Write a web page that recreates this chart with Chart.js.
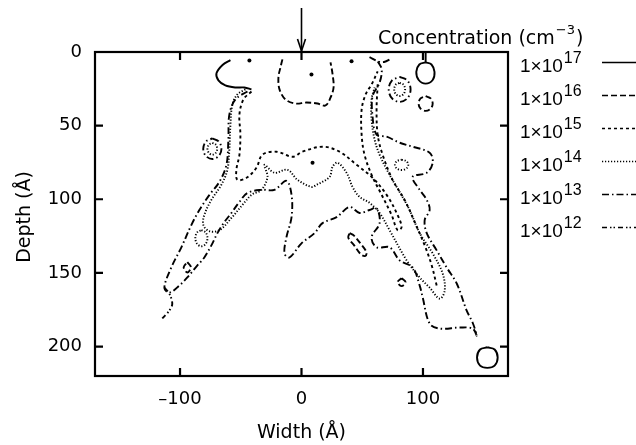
<!DOCTYPE html>
<html>
<head>
<meta charset="utf-8">
<script src="https://cdn.jsdelivr.net/npm/chart.js@4/dist/chart.umd.min.js"></script>
<style>
html,body{margin:0;padding:0;background:#fff;}
canvas{display:block;}
</style>
</head>
<body>
<canvas id="c" width="636" height="445"></canvas>
<script>
// ---- axis ticks / labels ----
const xTicks = [-100, 0, 100];
const yTicks = [0, 50, 100, 150, 200];
const xTitle = 'Width (Å)';
const yTitle = 'Depth (Å)';
const legendTitle = 'Concentration (cm';
const legendTitleSup = '−3';
const legendBase = '1×10';
const legendExponents = ['17', '16', '15', '14', '13', '12'];

// ---- contour data: [width (Å), depth (Å)] ----
// 1e17 (solid)
const c17Hook = [[-58.5,5.5],[-65,8.8],[-70,14.5],[-68.4,19.3],[-62.7,22.7],[-54.4,24.1],[-47,24.1],[-41.2,25.4]];
const c17Stem = [[102.2,0],[102.2,7]];
const c17RingTop = [[102.2,7],[107,8.5],[109.5,13.5],[108,19],[102.2,21.5],[96.5,19],[94.5,13.5],[97,8.5],[102.2,7]];
const c17RingBottom = [[153,200.5],[159,202],[161.5,207.5],[159,213],[153,214.5],[147,213],[144.5,207.5],[147,202],[153,200.5]];
const c17Dots = [[8.2,15.2],[-42.9,5.7],[41.2,6.3],[9.1,75.2]];
// 1e16 (dashed)
const c16Box = [[-15.7,5],[-17.3,10.4],[-19,17.2],[-18.1,25.4],[-13.2,32.2],[-4.9,35],[4.1,34.3],[13.2,35],[19.8,36.3],[23.9,30.9],[26.4,24.1],[25.6,15.2],[23.9,7]];
const c16SmallRing = [[102.2,30],[106.3,31.5],[108,35],[106.3,38.5],[102.2,40],[98,38.5],[96.4,35],[98,31.5],[102.2,30]];
const c16Oval = [[39.6,123],[43,124.5],[48.5,130],[53.5,136],[52.5,138.5],[49,137.5],[43.5,131.5],[38.5,126],[39.6,123]];
const c16LeftSmall = [[-94,142.7],[-91,146.2],[-94,149.7],[-97,146.2],[-94,142.7]];
const c16RightSmall = [[82.4,153.6],[85.7,156.3],[82.4,159],[79.1,156.3],[82.4,153.6]];
// 1e15 (short dashes)
const c15Main = [[-41.2,26.8],[-47.8,32.2],[-51.1,42.5],[-50.3,56.1],[-51.1,69.8],[-53.6,80],[-52.8,86.8],[-45.3,85.4],[-37.1,78.6],[-32.2,69.8],[-20.6,67.7],[-7.4,71.1],[0.8,67.7],[17.3,64.3],[31.3,67.7],[45.3,76.6],[58.5,85.4],[70.1,97],[78.3,109.3],[82.4,118.9],[79.1,121],[74.2,110.7],[66,97],[57.7,83.4],[51.9,69.8],[49.5,56.1],[49.5,39.1],[52.8,28.8],[57.7,22],[62.7,13.2]];
const c15Right = [[62.7,22],[61.8,39.1],[62.7,56.1],[66.8,69.8],[75,86.8],[84.9,100.4],[93.2,115.5],[101.4,131.3],[107.2,144.9],[111.3,158.6]];
// 1e14 (dots)
const c14Main = [[-46.2,25.4],[-52.8,28.8],[-56.9,35.7],[-58.5,49.3],[-59.4,66.3],[-61,80],[-66,90.2],[-74.2,100.4],[-80,110.7],[-80.8,117.5],[-75.8,121.7],[-67.6,121],[-57.7,112.7],[-48.6,103.8],[-41.2,97],[-33,93.6],[-28,84.8],[-30.5,76.6],[-22.3,82],[-11.5,80],[-3.3,86.8],[8.2,91.6],[12.4,90.2],[23.1,84.8],[25.6,77.9],[29.7,75.2],[37.1,82],[42,91.6],[47.8,98.4],[56.1,102.5],[64.3,109.3],[72.5,121],[86.6,141.5],[97.3,153.1],[105.5,160],[113.8,167.5],[117.9,162],[116.2,150.4],[108,136.8],[97.3,123],[89,107.3],[80.8,95],[72.5,83.4],[64.3,69.8],[60.2,59.5],[57.7,45.9],[57.7,32.2],[60.2,24.1]];
const c14LeftRing = [[-73.4,61.7],[-70.6,62.9],[-69.4,65.7],[-70.6,68.5],[-73.4,69.7],[-76.2,68.5],[-77.4,65.7],[-76.2,62.9],[-73.4,61.7]];
const c14RightRing = [[80.8,20.9],[84,22.2],[85.3,25.4],[84,28.6],[80.8,29.9],[77.6,28.6],[76.3,25.4],[77.6,22.2],[80.8,20.9]];
const c14RightOval = [[82.4,73.1],[86.3,74.1],[87.9,76.6],[86.3,79.1],[82.4,80.1],[78.5,79.1],[76.9,76.6],[78.5,74.1],[82.4,73.1]];
const c14ArmOval = [[-82.4,120.9],[-78.9,122.5],[-77.4,126.4],[-78.9,130.3],[-82.4,131.9],[-85.9,130.3],[-87.4,126.4],[-85.9,122.5],[-82.4,120.9]];
// 1e13 (dash-dot)
const c13Envelope = [[-44.5,26.8],[-54.4,32.2],[-59.4,42.5],[-60.2,59.5],[-61.8,76.6],[-67.6,88.2],[-75.8,97],[-84.1,107.3],[-90.7,117.5],[-98.9,132.6],[-107.2,146.3],[-112.9,160],[-108.8,163.4],[-100.6,158.6],[-94,153.1],[-85.7,144.9],[-80,139.5],[-74.2,131.3],[-69.2,123],[-63.5,115.5],[-57.7,109.3],[-51.1,101.8],[-44.5,95.7],[-33,93.6],[-22.3,93.6],[-12.4,87.5],[-8.2,97],[-8.2,112.1],[-12.4,125.8],[-14,136.8],[-9.9,139.5],[0,129.9],[10.7,123],[17.3,116.2],[28.9,112.1],[39.6,105.2],[47.8,109.3],[56.1,107.3],[61.8,105.9],[64.3,116.2],[57.7,125.8],[61.8,132.6],[72.5,132.6],[80.8,141.5],[91.5,146.3],[97.3,158.6],[99.8,166.8],[105.5,184.4],[113.8,187.8],[130.3,187.1],[141,187.8],[144.3,192.6],[141,184],[136,175.6],[127.8,157.2],[119.5,146.3],[111.3,134.7],[103.1,123],[101.4,114.1],[105.5,107.3],[103.1,100.4],[97.3,93.6],[91.5,84.8],[103.1,82],[108,75.2],[105.5,68.4],[91.5,64.3],[80.8,61.6],[70.1,57.5],[61.8,56.1],[58.5,43.8],[58.5,30.2],[64.3,20.7],[66,11.8],[62.7,6.3]];
const c13Fork = [[56,3.5],[62.7,6.3],[68,6.8],[74,4.5]];
const c13LeftRing = [[-73.4,58.7],[-68.1,60.8],[-65.9,65.7],[-68.1,70.6],[-73.4,72.7],[-78.7,70.6],[-80.9,65.7],[-78.7,60.8],[-73.4,58.7]];
const c13RightRing = [[80.8,16.9],[87.2,19.4],[89.8,25.4],[87.2,31.4],[80.8,33.9],[74.4,31.4],[71.8,25.4],[74.4,19.4],[80.8,16.9]];
// 1e12 (dash-dot-dot)
const c12Tail = [[-112.9,160],[-108.8,164.1],[-106.4,170.9],[-108.8,175.6],[-114.6,180.9]];

// ---- styles ----
const DASH = {'17': [], '16': [6,3], '15': [3,3], '14': [1.2,1.8], '13': [7,3,1.5,3], '12': [5,3,1.5,2,1.5,3]};
const LW = 1.9;

function line(points, level, tension) {
  return {
    data: points.map(p => ({x: p[0], y: p[1]})),
    showLine: true,
    borderColor: '#000',
    borderWidth: LW,
    borderDash: DASH[level],
    pointRadius: 0,
    tension: tension === undefined ? 0.35 : tension,
    fill: false
  };
}

const datasets = [
  line(c17Hook, '17'), line(c17Stem, '17', 0), line(c17RingTop, '17'), line(c17RingBottom, '17'),
  {data: c17Dots.map(p => ({x: p[0], y: p[1]})), showLine: false, pointRadius: 2, backgroundColor: '#000', borderColor: '#000', borderWidth: 0},
  line(c16Box, '16'), line(c16SmallRing, '16'), line(c16Oval, '16'), line(c16LeftSmall, '16'), line(c16RightSmall, '16'),
  line(c15Main, '15'), line(c15Right, '15'),
  line(c14Main, '14'), line(c14LeftRing, '14'), line(c14RightRing, '14'), line(c14RightOval, '14'), line(c14ArmOval, '14'),
  line(c13Envelope, '13'), line(c13Fork, '13'), line(c13LeftRing, '13'), line(c13RightRing, '13'),
  line(c12Tail, '12')
];

const decor = {
  id: 'decor',
  afterDraw(chart) {
    const ctx = chart.ctx, ca = chart.chartArea;
    const xs = chart.scales.x, ys = chart.scales.y;
    ctx.save();
    ctx.strokeStyle = '#000'; ctx.fillStyle = '#000';
    ctx.setLineDash([]);
    // frame
    ctx.lineWidth = 2.2;
    ctx.strokeRect(ca.left, ca.top, ca.right - ca.left, ca.bottom - ca.top);
    // inward ticks
    const TL = 8;
    ctx.beginPath();
    xTicks.forEach(v => {
      const px = xs.getPixelForValue(v);
      ctx.moveTo(px, ca.top); ctx.lineTo(px, ca.top + TL);
      ctx.moveTo(px, ca.bottom); ctx.lineTo(px, ca.bottom - TL);
    });
    yTicks.forEach(v => {
      if (v === 0) return;
      const py = ys.getPixelForValue(v);
      ctx.moveTo(ca.left, py); ctx.lineTo(ca.left + TL, py);
      ctx.moveTo(ca.right, py); ctx.lineTo(ca.right - TL, py);
    });
    ctx.stroke();
    // arrow at width 0
    const ax = xs.getPixelForValue(0);
    ctx.lineWidth = 1.6;
    ctx.beginPath(); ctx.moveTo(ax, 8); ctx.lineTo(ax, ca.top - 1); ctx.stroke();
    ctx.beginPath(); ctx.moveTo(ax - 4, ca.top - 13); ctx.lineTo(ax, ca.top - 1); ctx.lineTo(ax + 4, ca.top - 13); ctx.stroke();
    // axis titles
    ctx.font = '19px "DejaVu Sans"';
    ctx.textAlign = 'center'; ctx.textBaseline = 'middle';
    ctx.fillText(xTitle, (ca.left + ca.right) / 2, 433);
    ctx.save();
    ctx.translate(25, 217); ctx.rotate(-Math.PI / 2);
    ctx.fillText(yTitle, 0, 0);
    ctx.restore();
    // legend
    ctx.textAlign = 'left'; ctx.textBaseline = 'alphabetic';
    ctx.font = '19px "DejaVu Sans"';
    const tx = 378, tb = 44;
    ctx.fillText(legendTitle, tx, tb);
    let w = ctx.measureText(legendTitle).width;
    ctx.font = '13px "DejaVu Sans"';
    ctx.fillText(legendTitleSup, tx + w + 1, tb - 10);
    const w2 = ctx.measureText(legendTitleSup).width;
    ctx.font = '19px "DejaVu Sans"';
    ctx.fillText(')', tx + w + w2 + 2, tb);
    legendExponents.forEach((e, i) => {
      const b = 72 + i * 33;
      ctx.font = '19px "Liberation Sans"';
      ctx.fillText(legendBase, 520, b);
      const bw = ctx.measureText(legendBase).width;
      ctx.font = '16px "Liberation Sans"';
      ctx.fillText(e, 520 + bw + 1, b - 9);
      ctx.lineWidth = 1.6;
      ctx.setLineDash(DASH[e]);
      ctx.beginPath(); ctx.moveTo(602, b - 9.5); ctx.lineTo(636, b - 9.5); ctx.stroke();
      ctx.setLineDash([]);
    });
    ctx.restore();
  }
};

new Chart(document.getElementById('c'), {
  type: 'scatter',
  data: {datasets},
  options: {
    responsive: false,
    animation: false,
    devicePixelRatio: 1,
    layout: {padding: {top: 52, right: 128, left: 0, bottom: 0}},
    plugins: {legend: {display: false}, tooltip: {enabled: false}},
    scales: {
      x: {
        type: 'linear', min: -170, max: 170,
        afterBuildTicks: s => { s.ticks = xTicks.map(v => ({value: v})); },
        afterFit: s => { s.height = 69; },
        grid: {display: false, drawTicks: false},
        border: {display: false},
        ticks: {padding: 13, color: '#000', font: {family: 'DejaVu Sans', size: 18},
                callback: v => (v < 0 ? '–' + Math.abs(v) : String(v))}
      },
      y: {
        type: 'linear', reverse: true, min: 0, max: 220,
        afterBuildTicks: s => { s.ticks = yTicks.map(v => ({value: v})); },
        afterFit: s => { s.width = 95; },
        grid: {display: false, drawTicks: false},
        border: {display: false},
        ticks: {padding: 13, color: '#000', font: {family: 'DejaVu Sans', size: 18}}
      }
    }
  },
  plugins: [decor]
});
</script>
</body>
</html>
